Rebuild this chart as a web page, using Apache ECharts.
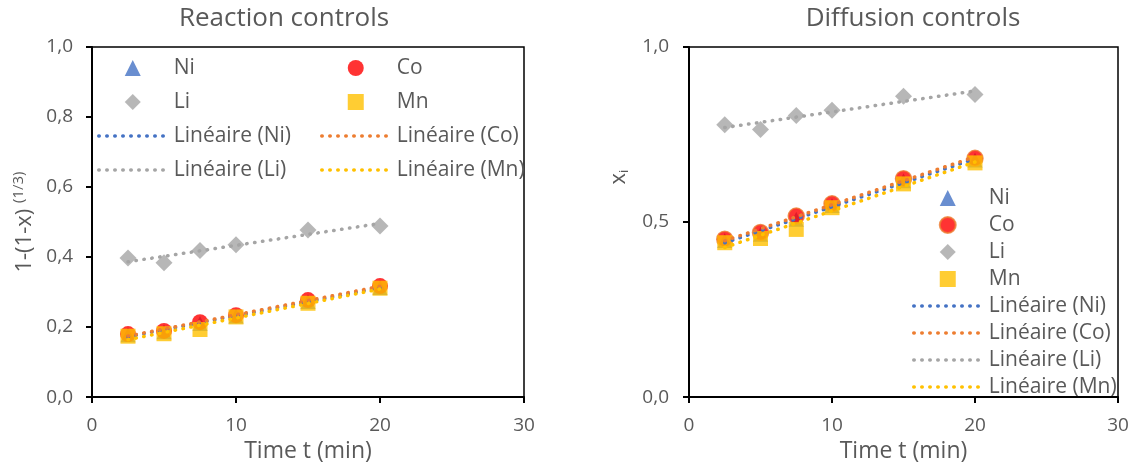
<!DOCTYPE html>
<html>
<head>
<meta charset="utf-8">
<script src="https://cdn.jsdelivr.net/npm/echarts@6/dist/echarts.min.js"></script>
<style>
html,body{margin:0;padding:0;background:#fff;}
#c{width:1136px;height:468px;}
</style>
</head>
<body>
<div id="c"></div>
<script>
// ---- data ----
const times = [2.5, 5, 7.5, 10, 15, 20];
// Reaction controls: 1-(1-x)^(1/3)
const rNi = [0.178, 0.187, 0.210, 0.232, 0.273, 0.313];
const rCo = [0.180, 0.189, 0.214, 0.234, 0.277, 0.317];
const rLi = [0.397, 0.384, 0.419, 0.435, 0.477, 0.489];
const rMn = [0.174, 0.181, 0.193, 0.229, 0.268, 0.311];
// Diffusion controls: x_i
const dNi = [0.447, 0.465, 0.508, 0.547, 0.618, 0.677];
const dCo = [0.451, 0.470, 0.517, 0.552, 0.624, 0.682];
const dLi = [0.778, 0.764, 0.804, 0.819, 0.859, 0.864];
const dMn = [0.441, 0.453, 0.479, 0.541, 0.609, 0.669];
const xTicks = [0, 10, 20, 30];
const titles = ['Reaction controls', 'Diffusion controls'];

const TXT = '#595959';
const FONT = 'Open Sans';
const C = {Ni:'#4472C4', Co:'#FF0000', CoT:'#ED7D31', Li:'#A5A5A5', Mn:'#FFC000'};

// legend marker icons (paths keep their aspect ratio in the legend)
const ICON = {
  triangle:'path://M0,10 L5,0 L10,10 Z',
  circle:'path://M0,5 A5,5 0 1,1 10,5 A5,5 0 1,1 0,5 Z',
  diamond:'path://M5,0 L10,5 L5,10 L0,5 Z',
  rect:'path://M0,0 L10,0 L10,10 L0,10 Z'
};

function pairs(ys){ return times.map((t,i)=>[t, ys[i]]); }
// Excel-style linear trendline (least squares) computed from the data
function trend(ys){
  const n = times.length;
  const mx = times.reduce((a,b)=>a+b,0)/n, my = ys.reduce((a,b)=>a+b,0)/n;
  let sxy=0, sxx=0;
  for(let i=0;i<n;i++){ sxy+=(times[i]-mx)*(ys[i]-my); sxx+=(times[i]-mx)**2; }
  const b = sxy/sxx, a = my - b*mx;
  const x0 = times[0], x1 = times[n-1];
  return [[x0, a+b*x0],[x1, a+b*x1]];
}
const fmt = v => v.toFixed(1).replace('.', ',');

function scatter(name, g, ys, symbol, color, size, border){
  return {type:'scatter', name, xAxisIndex:g, yAxisIndex:g, data:pairs(ys), symbol, symbolSize:size,
    itemStyle:{color, borderColor: border||color, borderWidth: border?1.5:0}, z:2};
}
function tline(name, g, ys, color){
  return {type:'line', name, xAxisIndex:g, yAxisIndex:g, data:trend(ys), symbol:'none', showSymbol:false,
    itemStyle:{color}, lineStyle:{color, width:3.5, type:[0.5,7.5], cap:'round'}, z:5, silent:true};
}

const series = [
  scatter('Ni',0,rNi,'triangle',C.Ni,15),
  scatter('Co',0,rCo,'circle',C.Co,16),
  scatter('Li',0,rLi,'diamond',C.Li,17),
  scatter('Mn',0,rMn,'rect',C.Mn,15),
  tline('Linéaire (Ni)',0,rNi,C.Ni),
  tline('Linéaire (Co)',0,rCo,C.CoT),
  tline('Linéaire (Li)',0,rLi,C.Li),
  tline('Linéaire (Mn)',0,rMn,C.Mn),
  scatter('Ni|R',1,dNi,'triangle',C.Ni,15),
  scatter('Co|R',1,dCo,'circle',C.Co,16,C.CoT),
  scatter('Li|R',1,dLi,'diamond',C.Li,17),
  scatter('Mn|R',1,dMn,'rect',C.Mn,15),
  tline('Linéaire (Ni)|R',1,dNi,C.Ni),
  tline('Linéaire (Co)|R',1,dCo,C.CoT),
  tline('Linéaire (Li)|R',1,dLi,C.Li),
  tline('Linéaire (Mn)|R',1,dMn,C.Mn)
];

// legend entries: markers get path icons, trendlines hide the default centre symbol
function mk(name, shape){ return {name, icon:ICON[shape]}; }
function ln(name){ return {name, itemStyle:{color:'rgba(0,0,0,0)', borderWidth:0}}; }

const legText = {color:TXT, fontFamily:FONT, fontSize:21, lineHeight:22, padding:[0,0,0,2]};
function legend(data, left, top, gap){
  return {data, left, top, orient:'vertical', itemWidth:68, itemHeight:16, itemGap:gap,
    symbolKeepAspect:true, textStyle:legText, formatter:n=>n.split('|')[0], selectedMode:false,
    lineStyle:{width:3.5}};
}

function xAxis(g){
  return {type:'value', gridIndex:g, min:0, max:30, interval:10,
    name:'Time t (min)', nameLocation:'middle', nameGap:38,
    nameTextStyle:{color:TXT, fontFamily:FONT, fontSize:23},
    axisLine:{lineStyle:{color:'#000', width:2}},
    axisTick:{show:true, inside:false, length:6, lineStyle:{color:'#000', width:2}},
    axisLabel:{color:TXT, fontFamily:FONT, fontSize:19, margin:19, formatter:v=>String(v)},
    splitLine:{show:false}};
}
function yAxisBase(g, interval, margin){
  return {type:'value', gridIndex:g, min:0, max:1, interval,
    axisLine:{show:true, lineStyle:{color:'#000', width:2}},
    axisTick:{show:true, length:6, lineStyle:{color:'#000', width:2}},
    axisLabel:{color:TXT, fontFamily:FONT, fontSize:19, margin, formatter:fmt},
    splitLine:{show:false}};
}

const option = {
  animation:false,
  backgroundColor:'#fff',
  title:[
    {text:titles[0], left:279, top:1, textAlign:'center', textStyle:{color:TXT, fontFamily:FONT, fontSize:26, fontWeight:'normal'}},
    {text:titles[1], left:908, top:1, textAlign:'center', textStyle:{color:TXT, fontFamily:FONT, fontSize:26, fontWeight:'normal'}}
  ],
  grid:[
    {left:92, top:47, width:432, height:352, show:true, borderColor:'#000', borderWidth:1.5, backgroundColor:'transparent'},
    {left:689, top:47, width:429, height:352, show:true, borderColor:'#000', borderWidth:1.5, backgroundColor:'transparent'}
  ],
  xAxis:[xAxis(0), xAxis(1)],
  yAxis:[
    Object.assign(yAxisBase(0, 0.2, 19), {
      name:'1-(1-x) {sup|(1/3)}', nameLocation:'middle', nameGap:54, nameRotate:90,
      nameTextStyle:{color:TXT, fontFamily:FONT, fontSize:22,
        rich:{sup:{color:TXT, fontFamily:FONT, fontSize:15, verticalAlign:'top', padding:[0,0,12,0]}}}
    }),
    Object.assign(yAxisBase(1, 0.5, 20), {
      name:'x{sub|i}', nameLocation:'middle', nameGap:58, nameRotate:90,
      nameTextStyle:{color:TXT, fontFamily:FONT, fontSize:22, padding:[0,0,0,90],
        rich:{sub:{color:TXT, fontFamily:FONT, fontSize:13, padding:[12,0,0,0]}}}
    })
  ],
  legend:[
    legend([mk('Ni','triangle'), mk('Li','diamond'), ln('Linéaire (Ni)'), ln('Linéaire (Li)')], 92, 52, 12),
    legend([mk('Co','circle'), mk('Mn','rect'), ln('Linéaire (Co)'), ln('Linéaire (Mn)')], 315, 52, 12),
    legend([mk('Ni|R','triangle'), mk('Co|R','circle'), mk('Li|R','diamond'), mk('Mn|R','rect'),
            ln('Linéaire (Ni)|R'), ln('Linéaire (Co)|R'), ln('Linéaire (Li)|R'), ln('Linéaire (Mn)|R')], 907, 182, 5)
  ],
  series
};
const chart = echarts.init(document.getElementById('c'), null, {renderer:'canvas'});
chart.setOption(option);
</script>
</body>
</html>
